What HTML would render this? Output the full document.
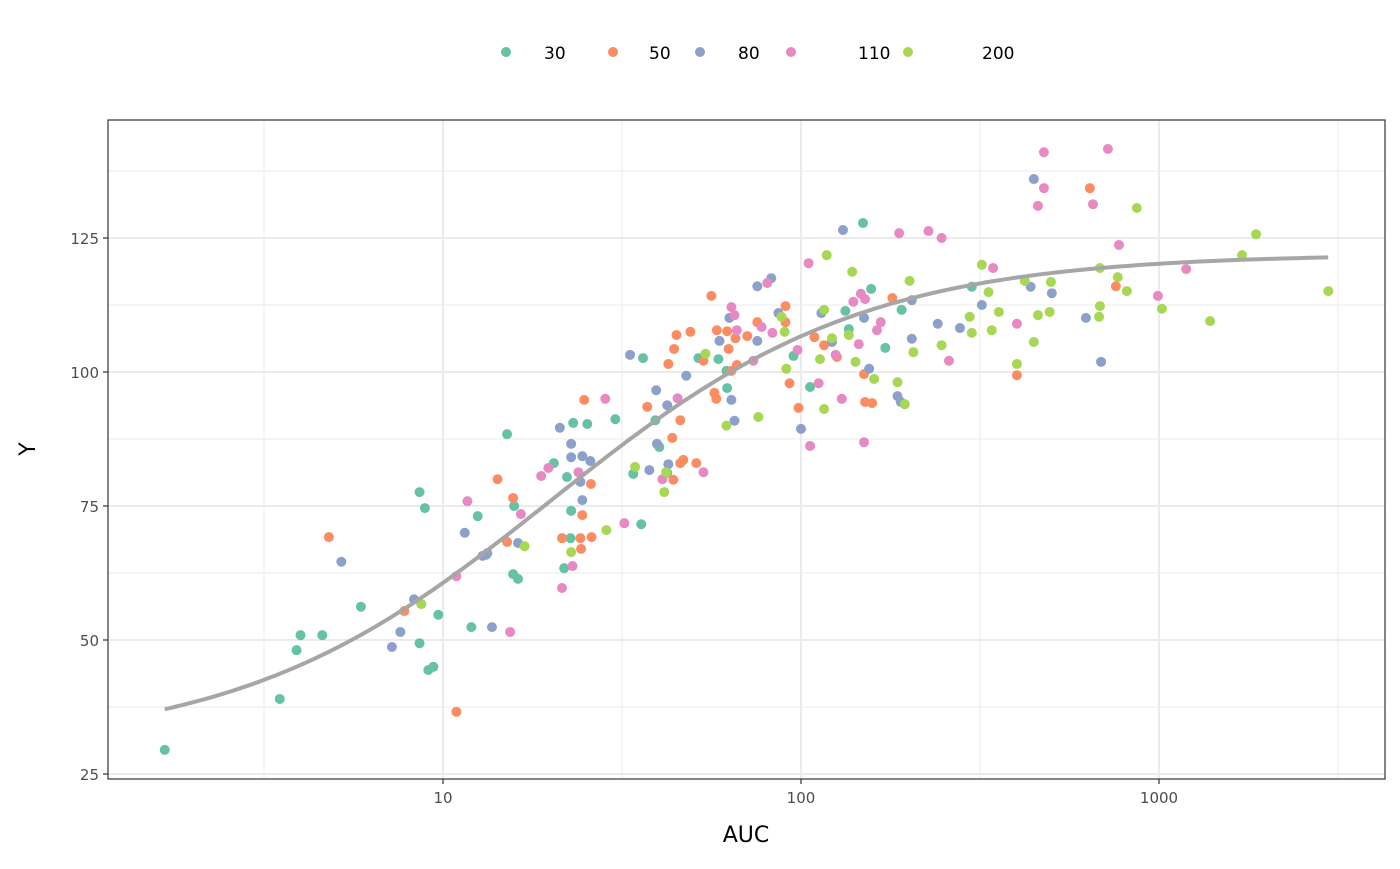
<!DOCTYPE html>
<html><head><meta charset="utf-8"><style>
body{margin:0;background:#fff;font-family:"DejaVu Sans","Liberation Sans",sans-serif}
</style></head><body>
<svg id="chart" width="1400" height="865" xmlns="http://www.w3.org/2000/svg" font-family="DejaVu Sans, Liberation Sans, sans-serif"></svg>
<script>
const groups=["30","50","80","110","200"];
const colors=["#66C2A5","#FC8D62","#8DA0CB","#E78AC3","#A6D854"];
const auc30=[1.67,3.5,3.9,4.0,4.6,5.9,8.6,8.9,8.6,9.1,9.4,9.7,12.0,12.5,13.2,15.1,15.7,15.8,16.2,20.4,21.8,22.2,22.7,22.8,23.1,25.3,30.3,34.0,35.8,36.2,39.2,40.2,42.3,51.7,58.8,62.2,61.9,95.3,106,133,136,149,157,172,191,300];
const y30=[29.5,39.0,48.1,50.9,50.9,56.2,77.6,74.6,49.4,44.4,45.0,54.7,52.4,73.1,65.9,88.4,62.3,75.0,61.4,83.0,63.4,80.4,69.0,74.1,90.5,90.3,91.2,81.0,71.6,102.6,91.0,86.0,81.2,102.6,102.4,97.0,100.2,103.0,97.2,111.4,108.0,127.8,115.5,104.5,111.6,115.9];
const auc50=[4.8,7.8,10.9,14.2,15.1,15.7,21.5,24.2,24.3,24.5,24.8,25.9,26.0,37.2,42.6,43.7,44.0,44.2,44.9,46.0,46.0,46.9,49.1,51.0,53.4,56.2,57.3,58.0,58.2,62.2,62.8,63.9,65.6,66.2,70.8,75.5,90.5,90.5,92.9,98.4,109,116,126,151,158,180,401,641,758,150];
const y50=[69.2,55.4,36.6,80.0,68.3,76.5,69.0,69.0,67.0,73.3,94.8,79.1,69.2,93.5,101.5,87.7,79.9,104.3,106.9,91.0,83.0,83.6,107.5,83.0,102.1,114.2,96.1,95.0,107.8,107.6,104.3,100.2,106.3,101.3,106.7,109.3,112.3,109.3,97.9,93.3,106.5,105.0,102.8,94.4,94.2,113.8,99.4,134.3,116.0,99.6];
const auc80=[5.2,7.2,7.6,8.3,11.5,12.9,13.3,13.7,16.2,21.2,22.8,22.8,24.2,24.5,24.5,25.8,33.3,37.7,39.4,39.6,42.3,42.6,47.8,59.2,63.1,63.9,65.2,75.5,75.5,82.6,86.5,100,131,114,122,150,155,186,190,204,204,241,278,320,447,438,502,625,689];
const y80=[64.6,48.7,51.5,57.6,70.0,65.7,66.2,52.4,68.1,89.6,86.6,84.1,79.5,84.3,76.1,83.4,103.2,81.7,96.6,86.6,93.8,82.8,99.3,105.8,110.1,94.8,90.9,116.0,105.8,117.5,111.0,89.4,126.5,111.0,105.6,110.1,100.6,95.5,94.4,113.4,106.2,109.0,108.2,112.5,136.0,115.9,114.7,110.1,101.9];
const auc110=[10.9,11.7,15.4,16.5,18.8,19.7,21.5,23.0,23.9,28.4,32.1,41.0,45.2,53.4,63.9,65.2,66.2,73.6,77.6,80.5,83.2,97.8,105,106,112,125,130,140,145,147,150,151,163,167,188,227,247,259,344,401,477,459,477,654,720,773,993,1191];
const y110=[61.9,75.9,51.5,73.5,80.6,82.1,59.7,63.8,81.3,95.0,71.8,80.0,95.1,81.3,112.1,110.6,107.8,102.1,108.4,116.6,107.3,104.1,120.3,86.2,97.9,103.2,95.0,113.1,105.2,114.6,86.9,113.6,107.8,109.3,125.9,126.3,125.0,102.1,119.4,109.0,141.0,131.0,134.3,131.3,141.6,123.7,114.2,119.2];
const auc200=[8.7,16.9,22.8,28.6,34.4,41.5,42.0,54.1,61.9,76.0,88.2,90.0,91.0,113,116,118,116,122,136,139,142,160,186,195,201,206,247,296,300,320,334,341,357,401,422,447,459,495,499,684,684,680,767,813,867,1019,1389,1706,1867,2972];
const y200=[56.7,67.5,66.4,70.5,82.3,77.6,81.3,103.4,90.0,91.6,110.3,107.5,100.6,102.4,93.1,121.8,111.6,106.3,106.9,118.7,101.9,98.7,98.1,94.0,117.0,103.7,105.0,110.3,107.3,120.0,114.9,107.8,111.2,101.5,117.0,105.6,110.6,111.2,116.8,119.4,112.3,110.3,117.7,115.1,130.6,111.8,109.5,121.8,125.7,115.1];
const xTicks=[10,100,1000];
const yTicks=[25,50,75,100,125];
const E0=30, Emax=92, EC50=20;
const fitRange=[1.67,2970];

const NS="http://www.w3.org/2000/svg";
const svg=document.getElementById('chart');
const L=108,R=1385,T=120,B=779;
function sx(v){return 443+(Math.log10(v)-1)*358;}
function sy(v){return 372-(v-100)*5.36;}
function mk(tag,attrs,parent){const e=document.createElementNS(NS,tag);for(const k in attrs)e.setAttribute(k,attrs[k]);(parent||svg).appendChild(e);return e;}

const grid=mk('g',{});


const xMinor=xTicks.map(t=>t/Math.sqrt(10)).concat([xTicks[xTicks.length-1]*Math.sqrt(10)]);
xMinor.forEach(v=>{const l=mk('line',{x1:sx(v),x2:sx(v),y1:T,y2:B,stroke:'#ebebeb','stroke-width':1},grid);

});
for(let i=0;i<yTicks.length;i++){const v=yTicks[i]+12.5;if(sy(v)>T){const l=mk('line',{x1:L,x2:R,y1:sy(v),y2:sy(v),stroke:'#ebebeb','stroke-width':1},grid);

}}
xTicks.forEach(v=>{const l=mk('line',{x1:sx(v),x2:sx(v),y1:T,y2:B,stroke:'#ebebeb','stroke-width':2},grid);

});
yTicks.forEach(v=>{const l=mk('line',{x1:L,x2:R,y1:sy(v),y2:sy(v),stroke:'#ebebeb','stroke-width':2},grid);

});

const pts=mk('g',{});


const allX=[auc30,auc50,auc80,auc110,auc200], allY=[y30,y50,y80,y110,y200];
allX.forEach((xs,g)=>{xs.forEach((v,i)=>{const c=mk('circle',{cx:sx(v),cy:sy(allY[g][i]),r:5,fill:colors[g]},pts);

});});

let d='';
for(let i=0;i<=200;i++){const lv=Math.log10(fitRange[0])+(Math.log10(fitRange[1])-Math.log10(fitRange[0]))*i/200;const c=Math.pow(10,lv);const e=E0+Emax*c/(EC50+c);d+=(i?'L':'M')+sx(c).toFixed(1)+','+sy(e).toFixed(1);}
const fit=mk('path',{d:d,fill:'none',stroke:'#a6a6a6','stroke-width':4});



const border=mk('rect',{x:L,y:T,width:R-L,height:B-T,fill:'none',stroke:'#333','stroke-width':1.2});



xTicks.forEach(v=>{const tk=mk('line',{x1:sx(v),x2:sx(v),y1:B,y2:B+5,stroke:'#333','stroke-width':1.2});


const t=mk('text',{x:sx(v),y:B+24,'text-anchor':'middle','font-size':15,fill:'#4d4d4d'});t.textContent=v;

});
yTicks.forEach(v=>{const tk=mk('line',{x1:L-5,x2:L,y1:sy(v),y2:sy(v),stroke:'#333','stroke-width':1.2});


const t=mk('text',{x:L-9,y:sy(v)+6,'text-anchor':'end','font-size':15,fill:'#4d4d4d'});t.textContent=v;

});

const xt=mk('text',{x:746,y:842,'text-anchor':'middle','font-size':22,fill:'#000'});xt.textContent='AUC';


const yt=mk('text',{x:0,y:0,'text-anchor':'middle','font-size':22,fill:'#000',transform:'translate(35,449) rotate(-90)'});yt.textContent='Y';



const legX=[506,613,700,791,908];
const legTX=[544,649,738,858,982];
const leg=mk('g',{});


groups.forEach((g,i)=>{const e=mk('g',{},leg);


mk('circle',{cx:legX[i],cy:52,r:5,fill:colors[i]},e);
const t=mk('text',{x:legTX[i],y:59,'text-anchor':'start','font-size':17,fill:'#000'},e);t.textContent=g;});
</script>
</body></html>
